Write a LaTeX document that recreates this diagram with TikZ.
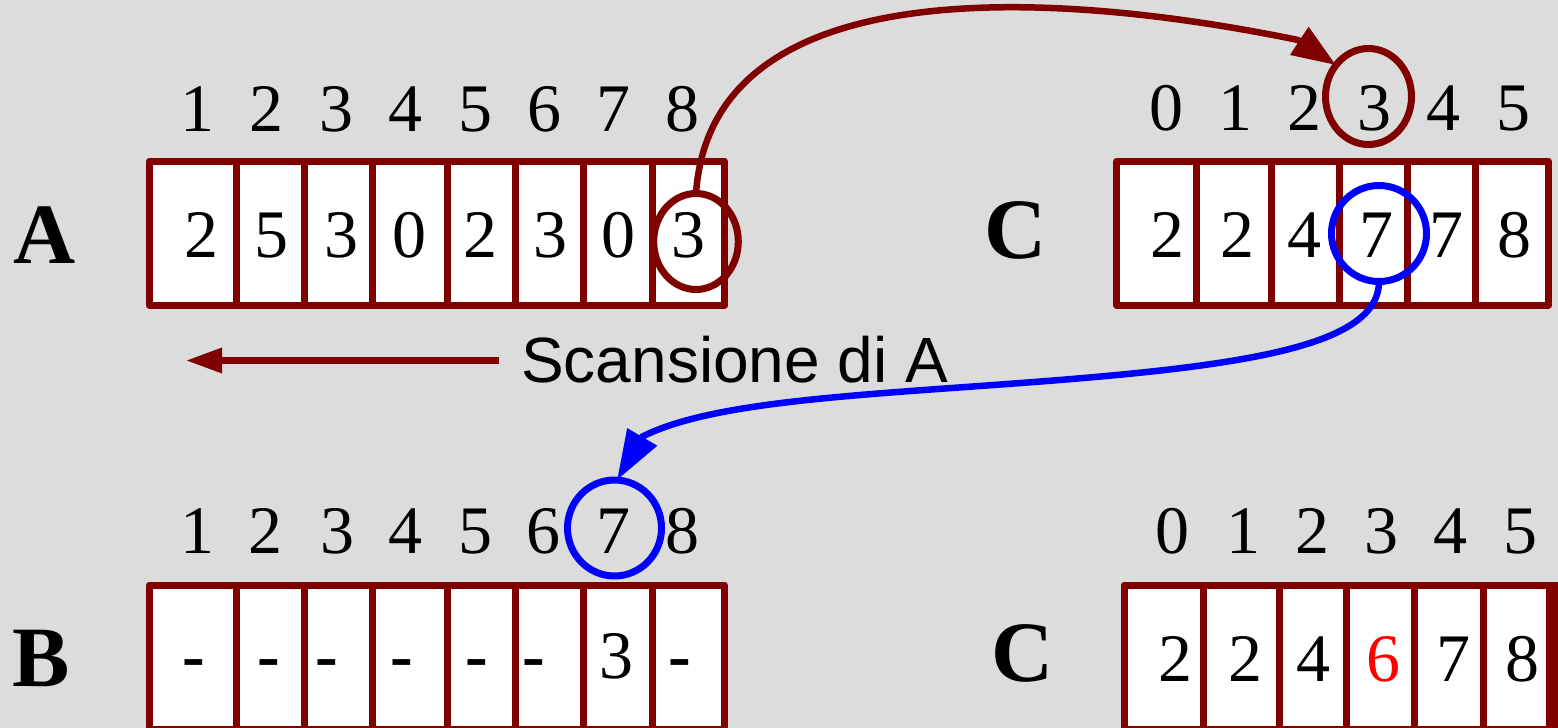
\documentclass[tikz,border=0pt]{standalone}
\usepackage{fontspec}
\setmainfont{Liberation Serif}
\setsansfont{Liberation Sans}
\usetikzlibrary{arrows.meta,shapes.geometric}
\definecolor{bg}{RGB}{220,220,220}
\definecolor{dred}{RGB}{128,0,0}
\definecolor{vblue}{RGB}{0,0,255}
\definecolor{vred}{RGB}{255,0,0}
\begin{document}
\begin{tikzpicture}[x=1pt,y=-1pt,
  num/.style={font=\fontsize{68}{80}\selectfont, anchor=base, inner sep=0pt},
  lab/.style={font=\fontsize{86}{100}\selectfont\bfseries, anchor=base, inner sep=0pt},
  box/.style={draw=dred, line width=7pt, fill=white, line join=round},
  sep/.style={draw=dred, line width=7pt},
  ring/.style={ellipse, draw, line width=7pt, inner sep=0pt, outer sep=0pt},
  conn/.style={line width=6.5pt},
]
\path[use as bounding box] (0,0) rectangle (1558,728);
\fill[bg] (0,0) rectangle (1558,728);

% array A
\path[box] (149.2,161.5) rectangle (724.8,305);
\foreach \x in {236.4,304.2,372.5,447.2,515.5,583.9,652.2} \draw[sep] (\x,161.5) -- (\x,305);
% array B
\path[box] (149.2,585) rectangle (724.8,729);
\foreach \x in {236.4,304.2,372.5,447.2,515.5,583.9,652.2} \draw[sep] (\x,585) -- (\x,729);
% array C (top)
\path[box] (1116.5,161.5) rectangle (1548.5,305);
\foreach \x in {1196,1271.2,1339.8,1407.6,1475.7} \draw[sep] (\x,161.5) -- (\x,305);
% array C (bottom)
\path[box] (1124,585) rectangle (1549.3,729);
\foreach \x in {1203.7,1279.3,1346.7,1414.8,1483.2} \draw[sep] (\x,585) -- (\x,729);
\fill[dred] (1546,581.5) rectangle (1558,728);

% labels
\node[lab] (labA) at (45,263) {A};
\node[lab] (labC1) at (1016,258) {C};
\node[lab] (labB) at (41,686) {B};
\node[lab] (labC2) at (1023,681) {C};

% indices
\foreach \v/\x [count=\i] in {1/197,2/266,3/336,4/405,5/475,6/544,7/613,8/682}
  \node[num] (ia\i) at (\x,131) {\v};
\foreach \v/\x [count=\i] in {0/1166,1/1235,2/1304,3/1374,4/1443,5/1513}
  \node[num] (ic\i) at (\x,130) {\v};
\foreach \v/\x [count=\i] in {1/197,2/265,3/337,4/405,5/475,6/543,7/613,8/682}
  \node[num] (ib\i) at (\x,553) {\v};
\foreach \v/\x [count=\i] in {0/1172,1/1243,2/1312,3/1381,4/1450,5/1520}
  \node[num] (id\i) at (\x,553) {\v};

% values
\foreach \v/\x [count=\i] in {2/201,5/271.5,3/341,0/409.6,2/480,3/550,0/618,3/688}
  \node[num] (va\i) at (\x,257) {\v};
\foreach \v/\x [count=\i] in {2/1167,2/1237,4/1304,7/1376,7/1446,8/1514.5}
  \node[num] (vc\i) at (\x,257) {\v};
\foreach \v/\x [count=\i] in {{\textbf{-}}/194,{\textbf{-}}/269,{\textbf{-}}/327,{\textbf{-}}/402,{\textbf{-}}/477,{\textbf{-}}/534,3/616,{\textbf{-}}/680}
  \node[num] (vb\i) at (\x,678) {\v};
\foreach \v/\x [count=\i] in {2/1175,2/1245,4/1313.6,{\textcolor{vred}{6}}/1383.6,7/1453.6,8/1522.6}
  \node[num] (vd\i) at (\x,681) {\v};

% rings
\node[ring, draw=dred, minimum width=84.6pt, minimum height=96pt] (ea) at (696,241.5) {};
\node[ring, draw=dred, minimum width=86pt, minimum height=96pt] (ec) at (1368.5,96.5) {};
\node[ring, draw=vblue, minimum width=95pt, minimum height=96pt] (eb) at (1379,233.5) {};
\node[ring, draw=vblue, minimum width=94pt, minimum height=96pt] (ed) at (614.5,528) {};

% connectors
\coordinate (rk) at (1298,40);
\draw[conn, dred, -{Triangle[length=44pt,width=32pt]}]
  (ea.north) .. controls (712,-40) and (1080,-5) .. (rk) -- (ec.136);
\coordinate (bm) at (1047,381);
\coordinate (bk) at (642.5,436.5);
\draw[conn, vblue, -{Triangle[length=50pt,width=33pt]}]
  (eb.south) .. controls (1379,345) and (1250,365) .. (bm)
  .. controls (867,395) and (715,400) .. (bk) -- (ed.87);

% scan arrow
\node[font=\sffamily\fontsize{64}{72}\selectfont, anchor=base west, inner sep=0pt] (scan) at (521,382) {Scansione di A};
\coordinate (s1) at (499,360.5);
\coordinate (s2) at (186,360.5);
\draw[conn, dred, -{Triangle[length=36pt,width=24pt]}] (s1) -- (s2);
\end{tikzpicture}
\end{document}
